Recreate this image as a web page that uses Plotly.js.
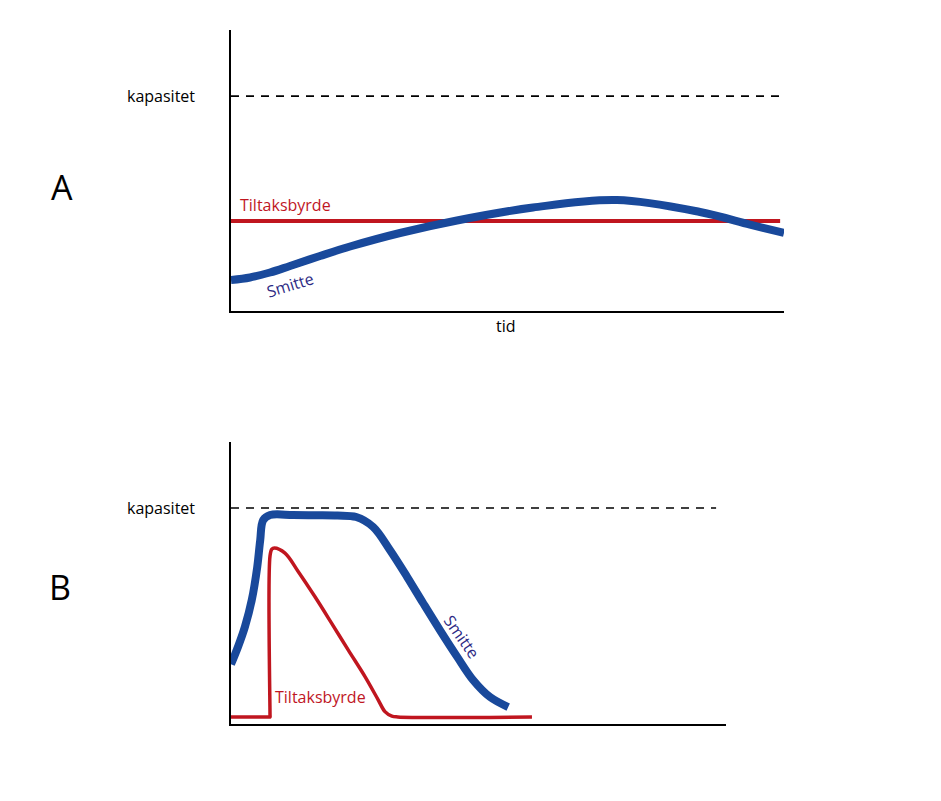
<!DOCTYPE html>
<html>
<head>
<meta charset="utf-8">
<script src="https://cdn.plot.ly/plotly-3.0.1.min.js"></script>
<style>
  html, body { margin: 0; padding: 0; background: #fff; }
  #chart { width: 941px; height: 801px; }
</style>
</head>
<body>
<div id="chart"></div>
<script>
// Panel A: slow, moderate spread (time 0–100, level 0–100)
const aSmitteX = [0, 3.44, 7.05, 10.67, 16.09, 21.52, 30.56, 40.87, 54.61, 69.8, 84.81, 93.85, 100];
const aSmitteY = [11.03, 11.92, 13.7, 16.01, 19.57, 22.95, 27.76, 32.21, 36.83, 39.5, 35.23, 30.78, 27.76];
const aTiltakX = [0, 99.3];
const aTiltakY = [32.0, 32.0];
const aKapasitet = 76.5;

// Panel B: fast spread that hits capacity, with a sharp intervention
const bSmitteX = [0, 1.4, 2.8, 4.2, 5.3, 5.9, 6.5, 7.9, 12.5, 17.0, 21.5, 25.3, 28.7, 32.1, 35.6, 38.8, 42.2, 45.7, 48.9, 52.3, 56.0];
const bSmitteY = [21.2, 27.3, 34.4, 44.0, 55.7, 65.2, 72.3, 74.1, 74.1, 74.0, 73.9, 73.4, 69.9, 61.7, 52.1, 42.9, 33.3, 23.8, 15.6, 9.6, 6.0];
const bTiltakX = [0, 7.78, 7.88, 7.88, 7.88, 8.25, 8.75, 10.91, 13.6, 16.97, 20.34, 23.7, 27.07, 29.76, 31.1, 32.5, 33.7, 60.8];
const bTiltakY = [2.5, 2.5, 2.5, 3.5, 59.6, 62.0, 62.4, 60.6, 54.0, 45.1, 35.7, 26.2, 16.8, 8.5, 4.4, 2.8, 2.5, 2.5];
const bKapasitet = 76.6;
const bKapasitetEnd = 98;

const labels = { kapasitet: 'kapasitet', tiltak: 'Tiltaksbyrde', smitte: 'Smitte', tid: 'tid' };

const BLUE = '#19499b';
const RED = '#c0161f';
const INDIGO = '#2d2a84';
const FONT = 'Open Sans, Noto Sans, sans-serif';
const W = 941, H = 801;
const px = v => v / W;
const py = v => 1 - v / H;

const traces = [
  // Panel A
  { x: [0, 100], y: [aKapasitet, aKapasitet], xaxis: 'x', yaxis: 'y', mode: 'lines',
    line: { color: '#000', width: 1.8, dash: '8px,7px' }, cliponaxis: false },
  { x: aTiltakX, y: aTiltakY, xaxis: 'x', yaxis: 'y', mode: 'lines',
    line: { color: RED, width: 4 } },
  { x: aSmitteX, y: aSmitteY, xaxis: 'x', yaxis: 'y', mode: 'lines',
    line: { color: BLUE, width: 8, shape: 'spline', smoothing: 1.0 } },
  // Panel B
  { x: [0, bKapasitetEnd], y: [bKapasitet, bKapasitet], xaxis: 'x2', yaxis: 'y2', mode: 'lines',
    line: { color: '#000', width: 1.6, dash: '8px,7px' } },
  { x: bTiltakX, y: bTiltakY, xaxis: 'x2', yaxis: 'y2', mode: 'lines',
    line: { color: RED, width: 3.5, shape: 'spline', smoothing: 1.0 } },
  { x: bSmitteX, y: bSmitteY, xaxis: 'x2', yaxis: 'y2', mode: 'lines',
    line: { color: BLUE, width: 8, shape: 'spline', smoothing: 1.0 } }
];

const axisCommon = {
  showgrid: false, zeroline: false, showticklabels: false, ticks: '',
  showline: true, linecolor: '#000', linewidth: 2, fixedrange: true
};

const txt = (text, x, y, xref, yref, opts) => Object.assign({
  text, x, y, xref, yref, showarrow: false,
  xanchor: 'center', yanchor: 'middle',
  font: { family: FONT, size: 16, color: '#000' }
}, opts || {});

const letterFont = { family: FONT, size: 34, color: '#000' };

const annotations = [
  // Panel letters
  txt('A', px(62), py(187), 'paper', 'paper', { font: letterFont }),
  txt('B', px(60), py(587), 'paper', 'paper', { font: letterFont }),
  // Panel A texts
  txt(labels.kapasitet, px(161), aKapasitet, 'paper', 'y'),
  txt(labels.tid, px(506), py(326), 'paper', 'paper'),
  txt(labels.tiltak, 1.2, 37.8, 'x', 'y', { xanchor: 'left', font: { family: FONT, size: 16, color: RED } }),
  txt(labels.smitte, 10.6, 9.4, 'x', 'y', { textangle: -17, font: { family: FONT, size: 16, color: INDIGO } }),
  // Panel B texts
  txt(labels.kapasitet, px(161), bKapasitet, 'paper', 'y2'),
  txt(labels.tiltak, 8.5, 9.6, 'x2', 'y2', { xanchor: 'left', font: { family: FONT, size: 16, color: RED } }),
  txt(labels.smitte, 46.7, 31, 'x2', 'y2', { textangle: 55, font: { family: FONT, size: 16, color: INDIGO } })
];

const layout = {
  width: W, height: H,
  margin: { l: 0, r: 0, t: 0, b: 0 },
  paper_bgcolor: '#fff', plot_bgcolor: '#fff',
  showlegend: false,
  xaxis: Object.assign({}, axisCommon, { domain: [px(231), px(784)], range: [0, 100], anchor: 'y' }),
  yaxis: Object.assign({}, axisCommon, { domain: [py(311), py(30)], range: [0, 100], anchor: 'x' }),
  xaxis2: Object.assign({}, axisCommon, { domain: [px(231), px(726)], range: [0, 100], anchor: 'y2' }),
  yaxis2: Object.assign({}, axisCommon, { domain: [py(724), py(442)], range: [0, 100], anchor: 'x2' }),
  annotations
};

Plotly.newPlot('chart', traces, layout, { staticPlot: true, displayModeBar: false });
</script>
</body>
</html>
